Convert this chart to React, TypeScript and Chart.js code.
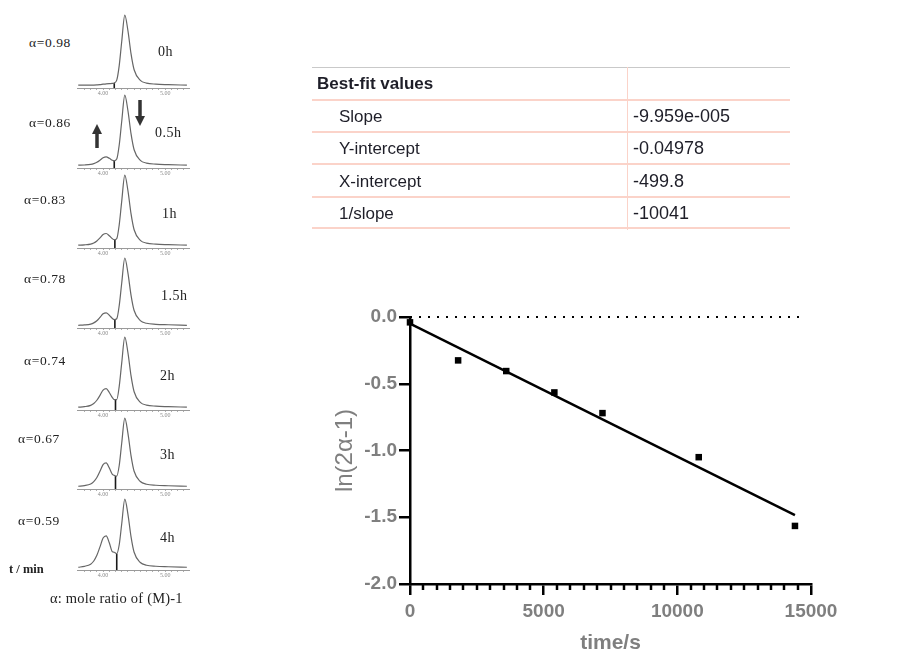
import React, { useEffect, useRef } from "react";
import { Chart, registerables } from "chart.js";

Chart.register(...registerables);

// ---------- Kinetic plot (right) ----------
const TIME_S = [0, 1800, 3600, 5400, 7200, 10800, 14400];
const LN_2A_MINUS_1 = [-0.04, -0.325, -0.405, -0.565, -0.72, -1.05, -1.565];
const FIT_X = [0, 14400];
const FIT_Y = [-0.0498, -1.484];
const ZERO_LINE_X = [0, 14750];
const ZERO_LINE_Y = [0, 0];
const X_MAJOR_TICKS = [0, 5000, 10000, 15000];
const X_MINOR_STEP = 500;
const Y_TICKS = [0, -0.5, -1.0, -1.5, -2.0];
const X_TITLE = "time/s";
const Y_TITLE = "ln(2α-1)";

// ---------- Best-fit table ----------
const TABLE_HEADER = "Best-fit values";
const TABLE_LABELS = ["Slope", "Y-intercept", "X-intercept", "1/slope"];
const TABLE_VALUES = ["-9.959e-005", "-0.04978", "-499.8", "-10041"];

// ---------- Chromatograms (left) ----------
const ALPHA_LABELS = ["α=0.98", "α=0.86", "α=0.83", "α=0.78", "α=0.74", "α=0.67", "α=0.59"];
const TIME_LABELS = ["0h", "0.5h", "1h", "1.5h", "2h", "3h", "4h"];
const CHROM_X = [3.6, 3.7, 3.8, 3.85, 3.9, 3.95, 4.0, 4.05, 4.1, 4.15, 4.18, 4.22, 4.26, 4.3, 4.35, 4.4, 4.45, 4.5, 4.6, 4.7, 4.85, 5.05, 5.35];
const CHROM_0H = [0, 0, 0.001, 0.002, 0.004, 0.007, 0.014, 0.02, 0.023, 0.025, 0.033, 0.072, 0.28, 0.62, 1, 0.78, 0.45, 0.22, 0.07, 0.03, 0.015, 0.008, 0];
const CHROM_05H = [0, 0.003, 0.011, 0.022, 0.042, 0.072, 0.106, 0.118, 0.098, 0.07, 0.063, 0.087, 0.288, 0.623, 1, 0.78, 0.45, 0.22, 0.07, 0.03, 0.015, 0.008, 0];
const CHROM_1H = [0, 0.005, 0.016, 0.032, 0.061, 0.104, 0.152, 0.167, 0.135, 0.092, 0.078, 0.094, 0.291, 0.625, 1, 0.78, 0.45, 0.22, 0.07, 0.03, 0.015, 0.008, 0];
const CHROM_15H = [0, 0.005, 0.018, 0.036, 0.068, 0.117, 0.171, 0.186, 0.15, 0.101, 0.084, 0.097, 0.293, 0.625, 1, 0.78, 0.45, 0.22, 0.07, 0.03, 0.015, 0.008, 0];
const CHROM_2H = [0, 0.008, 0.026, 0.052, 0.099, 0.169, 0.244, 0.265, 0.21, 0.137, 0.108, 0.109, 0.298, 0.628, 1, 0.78, 0.45, 0.22, 0.07, 0.03, 0.015, 0.008, 0];
const CHROM_3H = [0, 0.01, 0.034, 0.068, 0.129, 0.221, 0.318, 0.343, 0.27, 0.173, 0.16, 0.15, 0.304, 0.63, 1, 0.78, 0.45, 0.22, 0.07, 0.03, 0.015, 0.008, 0];
const CHROM_4H = [0, 0.014, 0.046, 0.092, 0.175, 0.299, 0.428, 0.461, 0.36, 0.227, 0.22, 0.2, 0.33, 0.634, 1, 0.78, 0.45, 0.22, 0.07, 0.03, 0.015, 0.008, 0];
const CHROM_SERIES = [CHROM_0H, CHROM_05H, CHROM_1H, CHROM_15H, CHROM_2H, CHROM_3H, CHROM_4H];
const VALLEY_X = [4.18, 4.18, 4.19, 4.19, 4.2, 4.2, 4.22];
const VALLEY_Y = [0.03, 0.063, 0.078, 0.084, 0.108, 0.15, 0.2];
const CHROM_TICKS = [3.7, 3.8, 3.9, 4.0, 4.1, 4.2, 4.3, 4.4, 4.5, 4.6, 4.7, 4.8, 4.9, 5.0, 5.1, 5.2, 5.3];
const CHROM_TICK_LABELS = ["4.00", "5.00"];
const UNIT_LABEL = "t / min";
const CAPTION = "α: mole ratio of (M)-1";

// ---------- Layout (positions only) ----------
const PEAK_TOP = [15, 95, 175, 258, 337, 418, 499];
const PEAK_BASE = [85, 165, 245, 325, 407, 486, 567];
const ALPHA_POS = [[29, 43], [29, 123], [24, 200], [24, 279], [24, 361], [18, 439], [18, 521]];
const TIME_POS = [[158, 52], [155, 133], [162, 214], [161, 296], [160, 376], [160, 455], [160, 538]];

const SERIF = "'Liberation Serif', 'Times New Roman', serif";
const SANS = "'Liberation Sans', Arial, Helvetica, sans-serif";

function Chromatogram({ idx }: { idx: number }) {
  const ref = useRef<HTMLCanvasElement>(null);
  const top = PEAK_TOP[idx];
  const base = PEAK_BASE[idx];
  const span = base - top;
  const H = Math.round(span * 1.07);
  const canvasTop = Math.round(top - 0.03 * span);
  const AXIS_H = 12;
  const W = 113;
  useEffect(() => {
    const values = CHROM_SERIES[idx];
    const chart = new Chart(ref.current as HTMLCanvasElement, {
      type: "scatter",
      data: {
        datasets: [
          {
            data: CHROM_X.map((x, i) => ({ x, y: values[i] })),
            showLine: true,
            borderColor: "#666666",
            borderWidth: 1.2,
            pointRadius: 0,
            cubicInterpolationMode: "monotone",
            clip: false,
          } as any,
          {
            data: [
              { x: VALLEY_X[idx], y: -0.04 },
              { x: VALLEY_X[idx], y: VALLEY_Y[idx] },
            ],
            showLine: true,
            borderColor: "#1a1a1a",
            borderWidth: 1.6,
            pointRadius: 0,
          },
        ],
      },
      options: {
        animation: false,
        responsive: false,
        events: [],
        layout: { padding: 0 },
        plugins: { legend: { display: false }, tooltip: { enabled: false } },
        scales: {
          x: {
            type: "linear",
            min: 3.58,
            max: 5.4,
            afterBuildTicks: (s: any) => {
              s.ticks = CHROM_TICKS.map((v) => ({ value: v }));
            },
            afterFit: (s: any) => {
              s.height = AXIS_H;
            },
            grid: { drawOnChartArea: false, tickLength: 2, color: "#9a9a9a", lineWidth: 0.8 },
            border: { color: "#9a9a9a", width: 1 },
            ticks: {
              font: { size: 6, family: SERIF },
              color: "#8a8a8a",
              padding: 0,
              maxRotation: 0,
              autoSkip: false,
              callback: (v: any) =>
                Math.abs(v - 4) < 1e-6 ? CHROM_TICK_LABELS[0] : Math.abs(v - 5) < 1e-6 ? CHROM_TICK_LABELS[1] : "",
            },
          },
          y: { display: false, min: -0.04, max: 1.03 },
        },
      },
    });
    return () => chart.destroy();
  }, [idx]);
  return (
    <canvas
      ref={ref}
      width={W}
      height={H + AXIS_H}
      style={{ position: "absolute", left: 77, top: canvasTop, width: W, height: H + AXIS_H }}
    />
  );
}

const minorTickPlugin = {
  id: "minorTicks",
  afterDraw(chart: any) {
    const s = chart.scales.x;
    const ctx = chart.ctx;
    const y0 = chart.chartArea.bottom;
    ctx.save();
    ctx.strokeStyle = "#000";
    ctx.lineWidth = 2.5;
    for (let v = s.min; v <= s.max; v += X_MINOR_STEP) {
      if (X_MAJOR_TICKS.includes(v)) continue;
      const px = Math.round(s.getPixelForValue(v));
      ctx.beginPath();
      ctx.moveTo(px, y0);
      ctx.lineTo(px, y0 + 6);
      ctx.stroke();
    }
    ctx.restore();
  },
};

function KineticChart() {
  const ref = useRef<HTMLCanvasElement>(null);
  useEffect(() => {
    const chart = new Chart(ref.current as HTMLCanvasElement, {
      type: "scatter",
      data: {
        datasets: [
          {
            data: ZERO_LINE_X.map((x, i) => ({ x, y: ZERO_LINE_Y[i] })),
            showLine: true,
            borderColor: "#000",
            borderWidth: 2,
            borderDash: [2, 7],
            pointRadius: 0,
            clip: false,
          } as any,
          {
            data: FIT_X.map((x, i) => ({ x, y: FIT_Y[i] })),
            showLine: true,
            borderColor: "#000",
            borderWidth: 2.5,
            pointRadius: 0,
          },
          {
            data: TIME_S.map((x, i) => ({ x, y: LN_2A_MINUS_1[i] })),
            showLine: false,
            pointStyle: "rect",
            pointRadius: 4.6,
            backgroundColor: "#000",
            borderColor: "#000",
            borderWidth: 0,
            clip: false,
          } as any,
        ],
      },
      options: {
        animation: false,
        responsive: false,
        events: [],
        layout: { padding: { left: 0, top: 27, right: 59, bottom: 0 } },
        plugins: { legend: { display: false }, tooltip: { enabled: false } },
        scales: {
          x: {
            type: "linear",
            min: 0,
            max: 15000,
            afterBuildTicks: (s: any) => {
              s.ticks = X_MAJOR_TICKS.map((v) => ({ value: v }));
            },
            afterFit: (s: any) => {
              s.height = 69;
            },
            grid: { drawOnChartArea: false, tickLength: 11, color: "#000", lineWidth: 2.5 },
            border: { color: "#000", width: 2.5 },
            ticks: {
              font: { size: 19, weight: "bold", family: SANS },
              color: "#7f7f7f",
              padding: 5,
              maxRotation: 0,
              autoSkip: false,
              callback: (v: any) => String(v),
            },
            title: {
              display: true,
              text: X_TITLE,
              font: { size: 21, weight: "bold", family: SANS, lineHeight: 0.9 },
              color: "#7f7f7f",
              padding: { top: 0, bottom: 0 },
            },
          },
          y: {
            type: "linear",
            min: -2,
            max: 0,
            afterBuildTicks: (s: any) => {
              s.ticks = Y_TICKS.map((v) => ({ value: v }));
            },
            afterFit: (s: any) => {
              s.width = 100;
            },
            grid: { drawOnChartArea: false, tickLength: 11, color: "#000", lineWidth: 2.5 },
            border: { color: "#000", width: 2.5 },
            ticks: {
              font: { size: 19, weight: "bold", family: SANS },
              color: "#7f7f7f",
              padding: 2,
              callback: (v: any) => Number(v).toFixed(1),
            },
            title: {
              display: true,
              text: Y_TITLE,
              font: { size: 24, weight: "normal", family: SANS, lineHeight: 1.2 },
              color: "#7f7f7f",
              padding: { top: 21, bottom: 0 },
            },
          },
        },
      },
      plugins: [minorTickPlugin],
    });
    return () => chart.destroy();
  }, []);
  return (
    <canvas
      ref={ref}
      width={560}
      height={363}
      style={{ position: "absolute", left: 310, top: 290, width: 560, height: 363 }}
    />
  );
}

function FitTable() {
  const rowTops = [67, 99, 131, 163, 196, 227];
  const left = 312;
  const right = 790;
  const divX = 627;
  const lineColor = "#fbd3c9";
  return (
    <>
      <div style={{ position: "absolute", left, top: rowTops[0], width: right - left, height: 1, background: "#c9c9c9" }} />
      <div style={{ position: "absolute", left: divX, top: rowTops[0], width: 1, height: rowTops[5] - rowTops[0] + 3, background: lineColor }} />
      {rowTops.slice(1).map((t, i) => (
        <div key={i} style={{ position: "absolute", left, top: t, width: right - left, height: 1.5, background: lineColor }} />
      ))}
      <div
        style={{
          position: "absolute",
          left: 317,
          top: 83,
          transform: "translateY(-50%)",
          font: `bold 17px ${SANS}`,
          color: "#1e1e28",
          lineHeight: 1,
          whiteSpace: "nowrap",
        }}
      >
        {TABLE_HEADER}
      </div>
      {TABLE_LABELS.map((lab, i) => {
        const cy = (rowTops[i + 1] + rowTops[i + 2]) / 2 + 1;
        return (
          <React.Fragment key={lab}>
            <div
              style={{
                position: "absolute",
                left: 339,
                top: cy,
                transform: "translateY(-50%)",
                font: `17px ${SANS}`,
                color: "#1e1e28",
                lineHeight: 1,
                whiteSpace: "nowrap",
              }}
            >
              {lab}
            </div>
            <div
              style={{
                position: "absolute",
                left: 633,
                top: cy,
                transform: "translateY(-50%)",
                font: `18px ${SANS}`,
                color: "#1e1e28",
                lineHeight: 1,
                whiteSpace: "nowrap",
              }}
            >
              {TABLE_VALUES[i]}
            </div>
          </React.Fragment>
        );
      })}
    </>
  );
}

function LeftPanel() {
  const textStyle = (x: number, y: number, size: number, extra: any = {}) => ({
    position: "absolute" as const,
    left: x,
    top: y,
    transform: "translateY(-50%)",
    fontFamily: SERIF,
    fontSize: size,
    lineHeight: 1,
    color: "#222",
    whiteSpace: "nowrap" as const,
    ...extra,
  });
  return (
    <>
      {CHROM_SERIES.map((_, i) => (
        <Chromatogram key={i} idx={i} />
      ))}
      {ALPHA_LABELS.map((t, i) => (
        <div key={"a" + i} style={textStyle(ALPHA_POS[i][0], ALPHA_POS[i][1], 13.5, { letterSpacing: 0.6 })}>
          {t}
        </div>
      ))}
      {TIME_LABELS.map((t, i) => (
        <div key={"t" + i} style={textStyle(TIME_POS[i][0], TIME_POS[i][1], 14, { letterSpacing: 0.5 })}>
          {t}
        </div>
      ))}
      <div style={textStyle(9, 569, 12.5, { fontWeight: "bold" })}>{UNIT_LABEL}</div>
      <div style={textStyle(50, 598, 14.5, { letterSpacing: 0.2 })}>{CAPTION}</div>
      <svg
        width={899}
        height={653}
        style={{ position: "absolute", left: 0, top: 0, pointerEvents: "none" }}
      >
        <line x1={97} y1={148} x2={97} y2={133} stroke="#333" strokeWidth={3.5} />
        <polygon points="92,134 102,134 97,124" fill="#333" />
        <line x1={140} y1={100} x2={140} y2={117} stroke="#333" strokeWidth={3.5} />
        <polygon points="135,116 145,116 140,126" fill="#333" />
      </svg>
    </>
  );
}

export default function App() {
  return (
    <div
      style={{
        position: "absolute",
        left: 0,
        top: 0,
        width: 899,
        height: 653,
        background: "#fff",
        overflow: "hidden",
      }}
    >
      <LeftPanel />
      <FitTable />
      <KineticChart />
    </div>
  );
}
